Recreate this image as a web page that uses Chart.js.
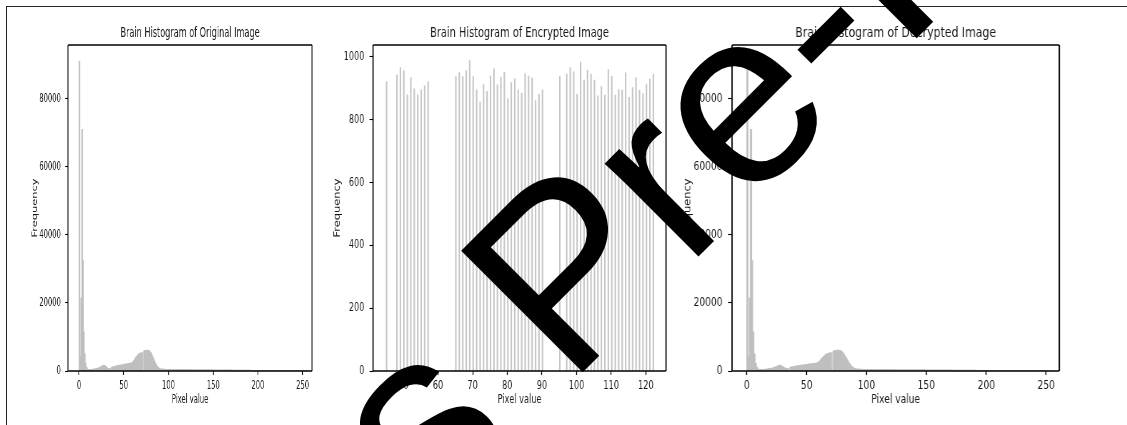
<!DOCTYPE html>
<html><head><meta charset="utf-8">
<script src="https://cdn.jsdelivr.net/npm/chart.js@4.4.1/dist/chart.umd.min.js"></script>
<style>
html,body{margin:0;padding:0;background:#fff;width:1127px;height:425px;overflow:hidden;}
#frame{position:absolute;left:6px;top:6px;width:1200px;height:500px;border-top:1.5px solid #222;border-left:1.5px solid #222;}
.wrap{position:absolute;top:0;height:425px;transform-origin:0 0;}
.wrap canvas{position:absolute;left:0;top:0;}
#w1{left:0px;width:555px;transform:scaleX(0.595);}
#w2{left:324px;width:512px;transform:scaleX(0.7146);}
#w3{left:680px;width:560px;transform:scaleX(0.798);}
#wm{position:absolute;left:0;top:0;z-index:5;}
</style></head><body>
<div id="frame"></div>
<div class="wrap" id="w1"><canvas id="c1" width="555" height="425"></canvas></div>
<div class="wrap" id="w2"><canvas id="c2" width="512" height="425"></canvas></div>
<div class="wrap" id="w3"><canvas id="c3" width="560" height="425"></canvas></div>
<canvas id="wm" width="1127" height="425"></canvas>
<script>
// ---------------- data ----------------
const titles = ['Brain Histogram of Original Image','Brain Histogram of Encrypted Image','Brain Histogram of Decrypted Image'];
const xAxisLabel = 'Pixel value';
const yAxisLabel = 'Frequency';

// counts per grey level 0..255 (original image)
const originalCounts = [
91000,4200,21500,71000,32500,11500,5000,2200,1100,650,
480,470,470,480,500,530,570,620,680,740,
800,900,1000,1150,1300,1450,1600,1700,1650,1450,
1200,950,750,700,750,0,1100,1200,1280,1350,
1420,1480,1540,1600,1650,1700,1750,1800,1850,1900,
1950,2000,2050,2100,2150,2200,2260,2320,2380,2440,
2800,3200,3600,4000,4400,4700,4950,5100,5250,5350,
5400,0,5800,5950,6050,6100,6100,6050,5950,5700,
5300,4800,4200,3600,3000,2400,1900,1450,1100,850,
700,620,570,540,520,510,500,495,490,485,
480,478,476,474,472,470,468,466,464,462,
460,458,456,454,452,450,448,446,444,442,
440,438,436,434,432,430,428,426,424,422,
420,418,416,414,412,410,408,406,404,402,
400,398,396,394,392,390,380,370,360,350,
345,340,335,330,325,320,318,316,314,312,
310,308,306,304,302,300,298,296,294,292,
290,288,286,284,282,280,278,276,274,272,
270,268,266,264,262,260,255,250,245,240,
230,220,200,170,130,90,60,40,30,25,
20,18,16,15,14,13,12,11,10,10,
9,9,8,8,7,7,6,6,5,5,
5,4,4,4,3,3,3,3,2,2,
2,2,2,2,1,1,1,1,1,1,
1,1,1,1,1,1,1,1,0,0,
0,0,0,0,0,0];
// decrypted image histogram (identical to the original: lossless)
const decryptedCounts = originalCounts.slice();

// encrypted image: occupied pixel values and their counts
const encPixels = [45,48,49,50,51,52,53,54,55,56,57,
65,66,67,68,69,70,71,72,73,74,75,76,77,78,79,80,81,82,83,84,85,86,87,88,89,90,
95,97,98,99,100,101,102,103,104,105,106,107,108,109,110,111,112,113,114,115,116,117,118,119,120,121,122];
const encCounts = [921,943,966,956,879,934,898,879,895,908,921,
937,950,937,956,988,937,895,856,912,890,940,962,911,935,951,866,918,930,895,884,946,939,933,861,881,895,
938,945,966,952,881,983,926,958,945,926,876,905,878,960,938,878,896,894,949,871,902,934,894,883,913,929,945];

const fullXTicks = [0,50,100,150,200,250];
const fullYTicks = [0,20000,40000,60000,80000];
const encXTicks = [50,60,70,80,90,100,110,120];
const encYTicks = [0,200,400,600,800,1000];

// ---------------- drawing ----------------
const greyLevels = [];
for (let i = 0; i < originalCounts.length; i++) greyLevels.push(i);

const FONT = "'DejaVu Sans', sans-serif";
const TXT = '#1a1a1a';

const spinePlugin = {
  id: 'spines',
  afterDatasetsDraw(chart) {
    const {ctx, chartArea: a} = chart;
    ctx.save();
    ctx.strokeStyle = '#000';
    ctx.lineWidth = 1.3;
    ctx.beginPath();
    ctx.moveTo(a.left, a.top); ctx.lineTo(a.right, a.top);
    ctx.moveTo(a.left, a.bottom); ctx.lineTo(a.right, a.bottom);
    ctx.stroke();
    ctx.lineWidth = 1.7;
    ctx.beginPath();
    ctx.moveTo(a.left, a.top); ctx.lineTo(a.left, a.bottom);
    ctx.moveTo(a.right, a.top); ctx.lineTo(a.right, a.bottom);
    ctx.stroke();
    ctx.restore();
  }
};

function makeChart(id, o) {
  const pts = o.xs.map((x, i) => ({x: x + o.shift, y: o.ys[i]}));
  return new Chart(document.getElementById(id), {
    type: 'bar',
    data: {datasets: [{
      data: pts,
      backgroundColor: o.color,
      borderWidth: 0,
      barPercentage: 1,
      categoryPercentage: 1,
      barThickness: o.barThickness,
      inflateAmount: 0.4
    }]},
    options: {
      responsive: false,
      animation: false,
      devicePixelRatio: 1,
      layout: {padding: {left: 0, right: o.padRight, top: 0, bottom: 0}},
      plugins: {
        legend: {display: false},
        tooltip: {enabled: false},
        title: {
          display: true, text: o.title, fullSize: false, color: TXT,
          font: {family: FONT, size: 13.7, weight: 'normal', lineHeight: 1.2},
          padding: {top: 24.8, bottom: 3.76}
        }
      },
      scales: {
        x: {
          type: 'linear', min: o.xmin, max: o.xmax, offset: false,
          grid: {offset: false, drawOnChartArea: false, drawTicks: true, tickLength: 4, tickColor: '#000', tickWidth: 1.3},
          border: {display: false},
          ticks: {padding: 4.5, color: TXT, font: {family: FONT, size: 11.4}, maxRotation: 0, autoSkip: false, callback: v => String(v)},
          title: {display: true, text: xAxisLabel, color: TXT, font: {family: FONT, size: 11.4, lineHeight: 1.2}, padding: {top: 0, bottom: 18.2}},
          afterBuildTicks: s => { s.ticks = o.xTicks.map(v => ({value: v})); },
          afterFit: s => { s.height = 54; s.paddingLeft = 0; s.paddingRight = 0; }
        },
        y: {
          type: 'linear', min: 0, max: o.ymax,
          grid: {drawOnChartArea: false, drawTicks: true, tickLength: 5, tickColor: '#000', tickWidth: 1.1},
          border: {display: false},
          ticks: {padding: 7, color: TXT, font: {family: FONT, size: 11.4}, callback: v => String(v)},
          title: {display: true, text: yAxisLabel, color: TXT, font: {family: FONT, size: 11.4, lineHeight: 1.2}, padding: {top: o.yTitlePad, bottom: 0}},
          afterBuildTicks: s => { s.ticks = o.yTicks.map(v => ({value: v})); },
          afterFit: s => { s.width = o.yAxisWidth; s.paddingTop = 0; s.paddingBottom = 0; }
        }
      }
    },
    plugins: [spinePlugin]
  });
}

makeChart('c1', {
  title: titles[0], xs: greyLevels, ys: originalCounts, shift: 0.5, color: '#bfbfbf',
  xmin: -12.3, xmax: 260.5, ymax: 95800, xTicks: fullXTicks, yTicks: fullYTicks,
  yAxisWidth: 114.3, padRight: 30.6, yTitlePad: 52, barThickness: 1.6
});
makeChart('c2', {
  title: titles[1], xs: encPixels, ys: encCounts, shift: 0.15, color: '#c6c6c6',
  xmin: 41.25, xmax: 125.8, ymax: 1038, xTicks: encXTicks, yTicks: encYTicks,
  yAxisWidth: 68.6, padRight: 33.4, yTitlePad: 12.3, barThickness: 1.3
});
makeChart('c3', {
  title: titles[2], xs: greyLevels, ys: decryptedCounts, shift: 0.5, color: '#bfbfbf',
  xmin: -12.3, xmax: 261.0, ymax: 95800, xTicks: fullXTicks, yTicks: fullYTicks,
  yAxisWidth: 65.2, padRight: 84.7, yTitlePad: 3.2, barThickness: 1.6
});

// ---------------- watermark overlay ----------------
(function () {
  const ctx = document.getElementById('wm').getContext('2d');
  ctx.save();
  ctx.translate(568.3, 386.7);
  ctx.rotate(-Math.PI / 4);
  ctx.font = '250px "Liberation Sans", Arial, sans-serif';
  ctx.fillStyle = '#000';
  ctx.textBaseline = 'alphabetic';
  const lead = 's ';
  ctx.fillText(lead + 'Pre-Print', -ctx.measureText(lead).width, 0);
  ctx.restore();
})();
</script>
</body></html>
